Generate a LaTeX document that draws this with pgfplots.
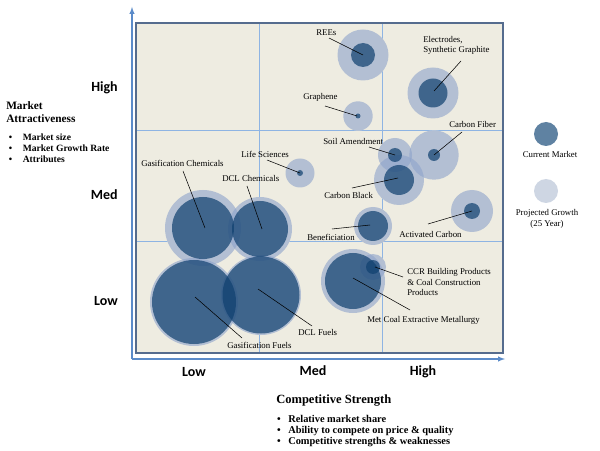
\documentclass[border=0pt]{standalone}
\usepackage{fontspec}
\setmainfont{Liberation Serif}
\newfontfamily\calibri{Carlito}
\usepackage{pgfplots}
\usepackage{pgfplotstable}
\pgfplotsset{compat=1.18}

\definecolor{bgtan}{HTML}{EEECE1}
\definecolor{framec}{HTML}{556C8E}
\definecolor{gridblue}{HTML}{8EB4E3}
\definecolor{arrowblue}{HTML}{5B8BC9}
\definecolor{innerc}{RGB}{15,64,111}
\definecolor{outerc}{RGB}{143,164,203}
\definecolor{legcur}{HTML}{5F82A2}
\definecolor{legproj}{HTML}{CED6E3}

% bubble centres and radii, in pixels of the 600x450 picture
\pgfplotstableread{
x   y   rin  rout
363 55  12   25.5
433 93  14.5 25.5
358 116 2.5  14.7
434 155 6    24.7
395 155 7    17
399 180 15   25
472 211 8    21
300 173 3    14.5
373 226 15   19
203 228 31   38
260 229 28   32
194 302 42   44
261 295 38.5 40
353 281 28   32
373 267 7    13
}\bubbles

\newcommand\lbl{\fontsize{6.6}{7.6}\selectfont}
\newcommand\hdrY{\fontsize{8.5}{10}\selectfont\bfseries}
\newcommand\hdrX{\fontsize{9.4}{11}\selectfont\bfseries}
\newcommand\itmY{\fontsize{7.2}{8}\selectfont\bfseries}
\newcommand\itmX{\fontsize{7.8}{9}\selectfont\bfseries}
\newcommand\lvl{\calibri\fontsize{10.5}{12}\selectfont\bfseries}

\begin{document}
\begin{tikzpicture}
\begin{axis}[
    set layers,
    scale only axis,
    width=275.25pt, height=247.5pt,
    xmin=136, xmax=503, ymin=23, ymax=353,
    y dir=reverse,
    clip=false,
    axis background/.style={fill=bgtan},
    axis line style={draw=framec, line width=0.8pt},
    xtick={259,382}, ytick={131,242},
    xticklabels={}, yticklabels={},
    tick style={draw=none},
    grid=major,
    grid style={gridblue, line width=0.75pt},
    unbounded coords=jump,
  ]
  % hide the grid beneath the bubbles
  \addplot[scatter, only marks, mark=*, point meta=explicit,
    scatter/use mapped color={draw=bgtan, draw opacity=0, fill=bgtan},
    visualization depends on={0.75*\thisrow{rout} \as \rr},
    scatter/@pre marker code/.append style={/tikz/mark size=\rr}]
    table[x=x, y=y, meta=rout] {\bubbles};
  % projected growth
  \addplot[scatter, only marks, mark=*, point meta=explicit,
    scatter/use mapped color={draw=outerc, draw opacity=0, fill=outerc, fill opacity=0.62},
    visualization depends on={0.75*\thisrow{rout} \as \rr},
    scatter/@pre marker code/.append style={/tikz/mark size=\rr}]
    table[x=x, y=y, meta=rout] {\bubbles};
  % current market
  \addplot[scatter, only marks, mark=*, point meta=explicit,
    scatter/use mapped color={draw=innerc, draw opacity=0, fill=innerc, fill opacity=0.7},
    visualization depends on={0.75*\thisrow{rin} \as \rr},
    scatter/@pre marker code/.append style={/tikz/mark size=\rr}]
    table[x=x, y=y, meta=rin] {\bubbles};

  % leader lines
  \addplot[black, line width=0.4pt, no marks, on layer=axis foreground] coordinates {
    (329,38) (363,55) (nan,nan)
    (461,61) (434,91) (nan,nan)
    (325,106) (357,116) (nan,nan)
    (462,132) (434,155) (nan,nan)
    (369,147) (395,155) (nan,nan)
    (352,188) (398,178) (nan,nan)
    (267,160) (300,173) (nan,nan)
    (183,171) (205,228) (nan,nan)
    (247,186) (262,229) (nan,nan)
    (332,229) (370,225) (nan,nan)
    (428,224) (472,211) (nan,nan)
    (403,277) (375,267) (nan,nan)
    (410,310) (353,278) (nan,nan)
    (312,326) (258,289) (nan,nan)
    (242,338) (195,297)
  };

  % legend
  \addplot[only marks, mark=*, mark size=9pt, mark options={draw opacity=0, fill=legcur}]
    coordinates {(546,134)};
  \addplot[only marks, mark=*, mark size=9pt, mark options={draw opacity=0, fill=legproj}]
    coordinates {(546,191)};
  \node[font=\lbl, anchor=base] at (axis cs:550,158) {Current Market};
  \node[font=\lbl, anchor=base] at (axis cs:547,216) {Projected Growth};
  \node[font=\lbl, anchor=base] at (axis cs:547,226.5) {(25 Year)};

  % bubble labels
  \node[font=\lbl, anchor=west, inner sep=0pt] at (axis cs:316,33) {REEs};
  \node[font=\lbl, anchor=west, inner sep=0pt, align=left] at (axis cs:423,45) {Electrodes,\\Synthetic Graphite};
  \node[font=\lbl, anchor=west, inner sep=0pt] at (axis cs:303,97) {Graphene};
  \node[font=\lbl, anchor=west, inner sep=0pt] at (axis cs:449,124) {Carbon Fiber};
  \node[font=\lbl, anchor=west, inner sep=0pt] at (axis cs:323,141) {Soil Amendment};
  \node[font=\lbl, anchor=west, inner sep=0pt] at (axis cs:324,195) {Carbon Black};
  \node[font=\lbl, anchor=west, inner sep=0pt] at (axis cs:241,154) {Life Sciences};
  \node[font=\lbl, anchor=west, inner sep=0pt] at (axis cs:141,163) {Gasification Chemicals};
  \node[font=\lbl, anchor=west, inner sep=0pt] at (axis cs:222,178) {DCL Chemicals};
  \node[font=\lbl, anchor=west, inner sep=0pt] at (axis cs:307,237) {Beneficiation};
  \node[font=\lbl, anchor=west, inner sep=0pt] at (axis cs:399,234) {Activated Carbon};
  \node[font=\lbl, anchor=west, inner sep=0pt, align=left] at (axis cs:407,282) {CCR Building Products\\\& Coal Construction\\Products};
  \node[font=\lbl, anchor=west, inner sep=0pt] at (axis cs:367,320) {Met Coal Extractive Metallurgy};
  \node[font=\lbl, anchor=west, inner sep=0pt] at (axis cs:298,332) {DCL Fuels};
  \node[font=\lbl, anchor=west, inner sep=0pt] at (axis cs:227,345) {Gasification Fuels};

  % axis arrows
  \draw[arrowblue, line width=0.8pt, -latex] (axis cs:132,359) -- (axis cs:132,7);
  \draw[arrowblue, line width=0.8pt, -latex] (axis cs:132,359) -- (axis cs:505,359);

  % level labels
  \node[font=\lvl, anchor=east, inner sep=0pt] at (axis cs:118,88) {High};
  \node[font=\lvl, anchor=east, inner sep=0pt] at (axis cs:118,195) {Med};
  \node[font=\lvl, anchor=east, inner sep=0pt] at (axis cs:118,301) {Low};
  \node[font=\lvl, inner sep=0pt] at (axis cs:194,372) {Low};
  \node[font=\lvl, inner sep=0pt] at (axis cs:313,371) {Med};
  \node[font=\lvl, inner sep=0pt] at (axis cs:423,372) {High};

  % y axis title
  \node[font=\hdrY, anchor=base west, inner sep=0pt] at (axis cs:6,109.5) {Market};
  \node[font=\hdrY, anchor=base west, inner sep=0pt] at (axis cs:6,123) {Attractiveness};
  \node[font=\itmY, anchor=base, inner sep=0pt] at (axis cs:10.5,141) {\textbullet};
  \node[font=\itmY, anchor=base, inner sep=0pt] at (axis cs:10.5,152) {\textbullet};
  \node[font=\itmY, anchor=base, inner sep=0pt] at (axis cs:10.5,163) {\textbullet};
  \node[font=\itmY, anchor=base west, inner sep=0pt] at (axis cs:22.5,141) {Market size};
  \node[font=\itmY, anchor=base west, inner sep=0pt] at (axis cs:22.5,152) {Market Growth Rate};
  \node[font=\itmY, anchor=base west, inner sep=0pt] at (axis cs:22.5,163) {Attributes};

  % x axis title
  \node[font=\hdrX, anchor=base west, inner sep=0pt] at (axis cs:276,403) {Competitive Strength};
  \node[font=\itmX, anchor=base, inner sep=0pt] at (axis cs:279,422.5) {\textbullet};
  \node[font=\itmX, anchor=base, inner sep=0pt] at (axis cs:279,433.5) {\textbullet};
  \node[font=\itmX, anchor=base, inner sep=0pt] at (axis cs:279,444.5) {\textbullet};
  \node[font=\itmX, anchor=base west, inner sep=0pt] at (axis cs:288,422.5) {Relative market share};
  \node[font=\itmX, anchor=base west, inner sep=0pt] at (axis cs:288,433.5) {Ability to compete on price \& quality};
  \node[font=\itmX, anchor=base west, inner sep=0pt] at (axis cs:288,444.5) {Competitive strengths \& weaknesses};

  \coordinate (bbsw) at (axis cs:0,450);
  \coordinate (bbne) at (axis cs:600,0);
\end{axis}
\pgfresetboundingbox
\path (bbsw) rectangle (bbne);
\end{tikzpicture}
\end{document}
